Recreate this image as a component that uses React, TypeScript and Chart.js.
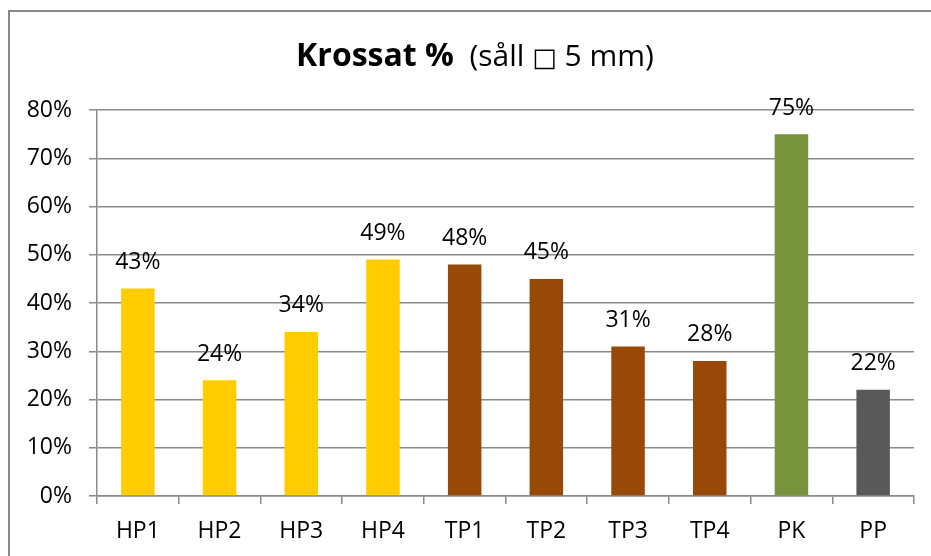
import React, { useEffect, useRef } from "react";
import { Chart, registerables } from "chart.js";

Chart.register(...registerables);

const categories = ["HP1", "HP2", "HP3", "HP4", "TP1", "TP2", "TP3", "TP4", "PK", "PP"];
const values = [43, 24, 34, 49, 48, 45, 31, 28, 75, 22];
const barColors = [
  "#FFCC00", "#FFCC00", "#FFCC00", "#FFCC00",
  "#984807", "#984807", "#984807", "#984807",
  "#77933C", "#595959",
];
const yTicks = { min: 0, max: 80, step: 10 };
const titleBold = "Krossat %";
const titleParts = ["  (såll ", "\u25A1", " 5 mm)"];

const FONT = "'Open Sans', 'DejaVu Sans', sans-serif";
const GRID = "#8a8a8a";

const titlePlugin = {
  id: "mixedTitle",
  afterDraw(chart: any) {
    const ctx = chart.ctx;
    ctx.save();
    ctx.fillStyle = "#000";
    ctx.textBaseline = "alphabetic";
    const fonts = [`bold 32px ${FONT}`, `30px ${FONT}`, `26px ${FONT}`, `30px ${FONT}`];
    const texts = [titleBold, ...titleParts];
    const widths = texts.map((t, i) => {
      ctx.font = fonts[i];
      return ctx.measureText(t).width;
    });
    const total = widths.reduce((a, b) => a + b, 0);
    const cx = 475;
    const baseline = 66;
    let x = cx - total / 2;
    ctx.textAlign = "left";
    texts.forEach((t, i) => {
      ctx.font = fonts[i];
      ctx.fillText(t, x, baseline);
      x += widths[i];
    });
    ctx.restore();
  },
};

const labelPlugin = {
  id: "barLabels",
  afterDatasetsDraw(chart: any) {
    const ctx = chart.ctx;
    const meta = chart.getDatasetMeta(0);
    ctx.save();
    ctx.fillStyle = "#000";
    ctx.font = `23px ${FONT}`;
    ctx.textAlign = "center";
    ctx.textBaseline = "middle";
    meta.data.forEach((bar: any, i: number) => {
      ctx.fillText(values[i] + "%", bar.x, bar.y - 26);
    });
    ctx.restore();
  },
};

export default function App() {
  const ref = useRef<HTMLCanvasElement>(null);
  useEffect(() => {
    if (!ref.current) return;
    const chart = new Chart(ref.current, {
      type: "bar",
      data: {
        labels: categories,
        datasets: [
          {
            data: values,
            backgroundColor: barColors,
            categoryPercentage: 1,
            barPercentage: 0.41,
          },
        ],
      },
      options: {
        responsive: false,
        animation: false,
        devicePixelRatio: 1,
        layout: { padding: { top: 110, right: 17, left: 0, bottom: 0 } },
        plugins: {
          legend: { display: false },
          title: { display: false },
          tooltip: { enabled: false },
        },
        scales: {
          x: {
            grid: {
              offset: true,
              drawOnChartArea: false,
              drawTicks: true,
              tickLength: 8,
              color: GRID,
              lineWidth: 1.5,
            },
            border: { display: true, color: GRID, width: 1.5 },
            ticks: {
              color: "#000",
              font: { family: FONT, size: 23 },
              padding: 14,
            },
            afterFit(scale: any) {
              scale.height = 60;
            },
          },
          y: {
            min: yTicks.min,
            max: yTicks.max,
            ticks: {
              stepSize: yTicks.step,
              color: "#000",
              font: { family: FONT, size: 23 },
              padding: 17,
              callback: (v: any) => v + "%",
            },
            grid: {
              color: GRID,
              lineWidth: 1.5,
              tickLength: 8,
            },
            border: { display: true, color: GRID, width: 1.5 },
            afterFit(scale: any) {
              scale.width = 97;
            },
          },
        },
      },
      plugins: [titlePlugin, labelPlugin],
    });
    return () => chart.destroy();
  }, []);

  return (
    <div style={{ position: "absolute", left: 0, top: 0, width: 931, height: 556, overflow: "hidden" }}>
      <div
        style={{
          position: "absolute",
          left: 8,
          top: 10,
          width: 1000,
          height: 1000,
          border: "2px solid #898989",
          boxSizing: "border-box",
        }}
      />
      <canvas
        ref={ref}
        width={931}
        height={556}
        style={{ position: "absolute", left: 0, top: 0, display: "block" }}
      />
    </div>
  );
}
